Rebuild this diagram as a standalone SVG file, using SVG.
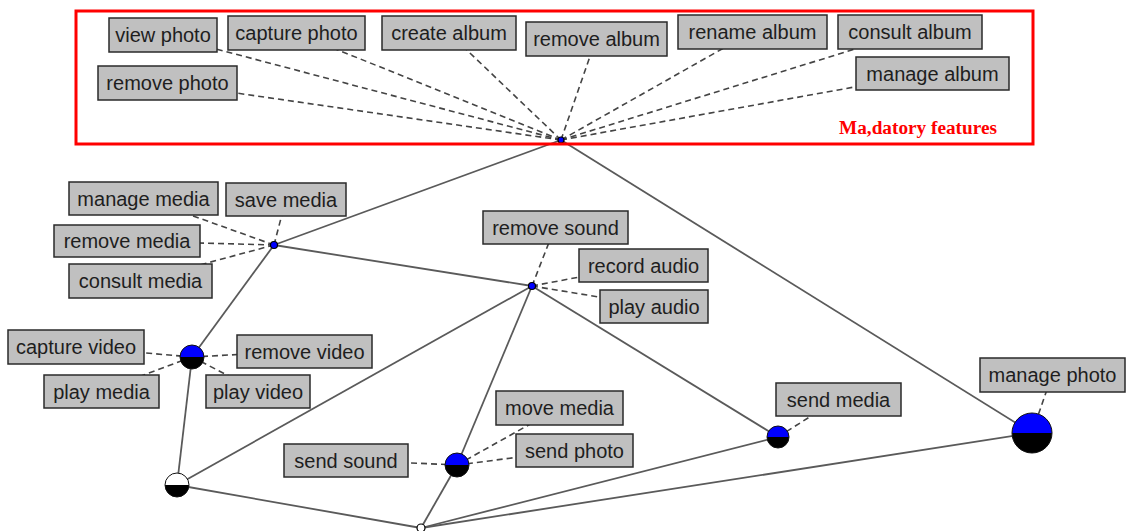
<svg xmlns="http://www.w3.org/2000/svg" width="1126" height="531" viewBox="0 0 1126 531">
  <style>
    .edge { stroke: #5a5a5a; stroke-width: 1.8; fill: none; }
    .link { stroke: #444; stroke-width: 1.6; stroke-dasharray: 6 4; fill: none; }
    .box rect { fill: #c0c0c0; stroke: #2a2a2a; stroke-width: 1.5; }
    .box text { font-family: "Liberation Sans", Arial, sans-serif; font-size: 20px; fill: #1e1e1e; text-anchor: middle; }
    .up { fill: #0000ff; }
    .down { fill: #000; }
    .ring { fill: none; stroke: #111; stroke-width: 1; }
    .hub { fill: #0000ff; stroke: #000; stroke-width: 1.2; }
    .frame { fill: none; stroke: #ff0000; stroke-width: 3; }
    .frame-title { font-family: "Liberation Serif", "Times New Roman", serif; font-weight: bold; font-size: 18.5px; fill: #ff0000; }
  </style>

  <!-- structural edges -->
  <g id="connectors">
    <g>
      <line class="edge" x1="561" y1="140" x2="274" y2="245"/>
      <line class="edge" x1="561" y1="140" x2="1032" y2="433"/>
      <line class="edge" x1="274" y1="245" x2="532" y2="286"/>
      <line class="edge" x1="274" y1="245" x2="192" y2="357"/>
      <line class="edge" x1="192" y1="357" x2="177" y2="485"/>
      <line class="edge" x1="177" y1="485" x2="532" y2="286"/>
      <line class="edge" x1="532" y1="286" x2="457" y2="465"/>
      <line class="edge" x1="532" y1="286" x2="778" y2="437"/>
      <line class="edge" x1="177" y1="485" x2="421" y2="528"/>
      <line class="edge" x1="457" y1="465" x2="421" y2="528"/>
      <line class="edge" x1="421" y1="528" x2="778" y2="437"/>
      <line class="edge" x1="421" y1="528" x2="1032" y2="433"/>
    </g>
    <!-- feature links -->
    <g>
      <line class="link" x1="561" y1="140" x2="163" y2="35"/>
      <line class="link" x1="561" y1="140" x2="296" y2="33"/>
      <line class="link" x1="561" y1="140" x2="449" y2="33"/>
      <line class="link" x1="561" y1="140" x2="596" y2="39"/>
      <line class="link" x1="561" y1="140" x2="752" y2="32"/>
      <line class="link" x1="561" y1="140" x2="910" y2="32"/>
      <line class="link" x1="561" y1="140" x2="932" y2="73"/>
      <line class="link" x1="561" y1="140" x2="167" y2="83"/>

      <line class="link" x1="274" y1="245" x2="143" y2="198"/>
      <line class="link" x1="274" y1="245" x2="286" y2="199"/>
      <line class="link" x1="274" y1="245" x2="127" y2="241"/>
      <line class="link" x1="274" y1="245" x2="140" y2="281"/>

      <line class="link" x1="532" y1="286" x2="555" y2="227"/>
      <line class="link" x1="532" y1="286" x2="643" y2="265"/>
      <line class="link" x1="532" y1="286" x2="654" y2="306"/>

      <line class="link" x1="192" y1="357" x2="76" y2="347"/>
      <line class="link" x1="192" y1="357" x2="304" y2="351"/>
      <line class="link" x1="192" y1="357" x2="101" y2="391"/>
      <line class="link" x1="192" y1="357" x2="258" y2="391"/>

      <line class="link" x1="457" y1="465" x2="346" y2="460"/>
      <line class="link" x1="457" y1="465" x2="559" y2="408"/>
      <line class="link" x1="457" y1="465" x2="574" y2="450"/>

      <line class="link" x1="778" y1="437" x2="838" y2="399"/>
      <line class="link" x1="1032" y1="433" x2="1052" y2="375"/>
    </g>
  </g>

  <!-- feature labels -->
  <g id="view-photo" class="box"><rect x="109" y="18" width="108" height="34"/><text x="163" y="42">view photo</text></g>
  <g id="capture-photo" class="box"><rect x="228" y="16" width="137" height="34"/><text x="296.5" y="40">capture photo</text></g>
  <g id="create-album" class="box"><rect x="382" y="16" width="134" height="34"/><text x="449" y="40">create album</text></g>
  <g id="remove-album" class="box"><rect x="526" y="22" width="141" height="34"/><text x="596.5" y="46">remove album</text></g>
  <g id="rename-album" class="box"><rect x="678" y="15" width="149" height="34"/><text x="752.5" y="39">rename album</text></g>
  <g id="consult-album" class="box"><rect x="838" y="15" width="144" height="34"/><text x="910" y="39">consult album</text></g>
  <g id="manage-album" class="box"><rect x="856" y="57" width="153" height="33"/><text x="932.5" y="80.5">manage album</text></g>
  <g id="remove-photo" class="box"><rect x="98" y="66" width="139" height="34"/><text x="167.5" y="90">remove photo</text></g>

  <g id="manage-media" class="box"><rect x="69" y="182" width="149" height="33"/><text x="143.5" y="205.5">manage media</text></g>
  <g id="save-media" class="box"><rect x="226" y="183" width="120" height="33"/><text x="286" y="206.5">save media</text></g>
  <g id="remove-media" class="box"><rect x="54" y="225" width="146" height="32"/><text x="127" y="248">remove media</text></g>
  <g id="consult-media" class="box"><rect x="69" y="264" width="143" height="34"/><text x="140.5" y="288">consult media</text></g>

  <g id="remove-sound" class="box"><rect x="483" y="211" width="145" height="33"/><text x="555.5" y="234.5">remove sound</text></g>
  <g id="record-audio" class="box"><rect x="579" y="249" width="129" height="33"/><text x="643.5" y="272.5">record audio</text></g>
  <g id="play-audio" class="box"><rect x="600" y="290" width="108" height="33"/><text x="654" y="313.5">play audio</text></g>

  <g id="capture-video" class="box"><rect x="8" y="330" width="136" height="34"/><text x="76" y="354">capture video</text></g>
  <g id="remove-video" class="box"><rect x="237" y="335" width="135" height="33"/><text x="304.5" y="358.5">remove video</text></g>
  <g id="play-media" class="box"><rect x="44" y="375" width="115" height="33"/><text x="101.5" y="398.5">play media</text></g>
  <g id="play-video" class="box"><rect x="206" y="375" width="104" height="33"/><text x="258" y="398.5">play video</text></g>

  <g id="move-media" class="box"><rect x="496" y="391" width="127" height="34"/><text x="559.5" y="415">move media</text></g>
  <g id="send-photo" class="box"><rect x="516" y="434" width="117" height="33"/><text x="574.5" y="457.5">send photo</text></g>
  <g id="send-sound" class="box"><rect x="284" y="444" width="124" height="33"/><text x="346" y="467.5">send sound</text></g>

  <g id="send-media" class="box"><rect x="776" y="383" width="125" height="33"/><text x="838.5" y="406.5">send media</text></g>
  <g id="manage-photo" class="box"><rect x="980" y="358" width="145" height="34"/><text x="1052.5" y="382">manage photo</text></g>

  <!-- variation points -->
  <g id="media-hub"><circle class="hub" cx="274" cy="245" r="3.5"/></g>
  <g id="sound-hub"><circle class="hub" cx="532" cy="286" r="3.5"/></g>

  <g id="video-node">
    <path class="up" d="M180,357 A12,12 0 0 1 204,357 Z"/>
    <path class="down" d="M180,357 A12,12 0 0 0 204,357 Z"/>
    <circle class="ring" cx="192" cy="357" r="12"/>
  </g>
  <g id="root-left">
    <path fill="#fff" d="M165,485 A12,12 0 0 1 189,485 Z"/>
    <path class="down" d="M165,485 A12,12 0 0 0 189,485 Z"/>
    <circle class="ring" cx="177" cy="485" r="12"/>
  </g>
  <g id="sound-node">
    <path class="up" d="M445,465 A12,12 0 0 1 469,465 Z"/>
    <path class="down" d="M445,465 A12,12 0 0 0 469,465 Z"/>
    <circle class="ring" cx="457" cy="465" r="12"/>
  </g>
  <g id="send-node">
    <path class="up" d="M767,437 A11,11 0 0 1 789,437 Z"/>
    <path class="down" d="M767,437 A11,11 0 0 0 789,437 Z"/>
    <circle class="ring" cx="778" cy="437" r="11"/>
  </g>
  <g id="photo-node">
    <path class="up" d="M1012,433 A20,20 0 0 1 1052,433 Z"/>
    <path class="down" d="M1012,433 A20,20 0 0 0 1052,433 Z"/>
    <circle class="ring" cx="1032" cy="433" r="20"/>
  </g>
  <g id="root"><circle cx="421" cy="528" r="4" fill="#fff" stroke="#000" stroke-width="1.2"/></g>

  <g id="album-hub"><circle class="hub" cx="561" cy="140" r="3"/></g>

  <!-- mandatory group frame -->
  <g id="mandatory-frame">
    <rect class="frame" x="76" y="11" width="957" height="133"/>
    <text class="frame-title" x="839" y="134" textLength="158" lengthAdjust="spacingAndGlyphs">Ma,datory features</text>
  </g>
</svg>
